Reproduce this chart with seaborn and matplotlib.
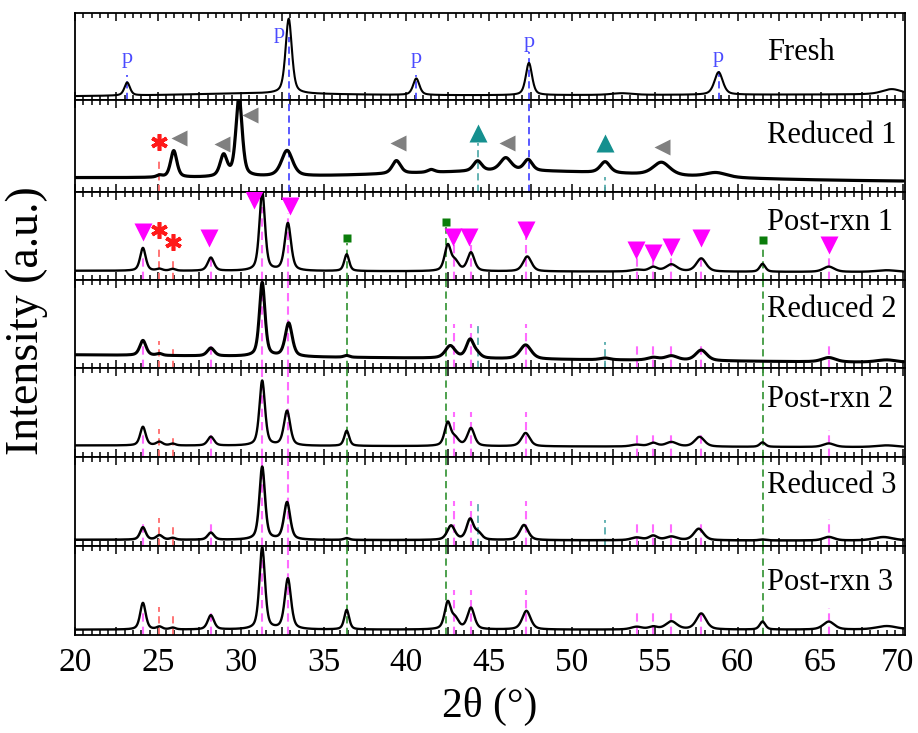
import numpy as np
import matplotlib
matplotlib.use("Agg")
import matplotlib.pyplot as plt
import matplotlib.transforms as mtransforms
from matplotlib.ticker import MultipleLocator, FuncFormatter
import seaborn as sns

# ---------------------------------------------------------------------------
# Diffraction patterns: each peak is (2theta centre, height, FWHM); heights and
# background are in arbitrary intensity units (0-100 per stacked panel).
# ---------------------------------------------------------------------------
PANEL_NAMES = ["Fresh", "Reduced 1", "Post-rxn 1", "Reduced 2",
               "Post-rxn 2", "Reduced 3", "Post-rxn 3"]

FRESH_PEAKS = [(23.15, 15, 0.40), (31.0, 3, 12.0), (32.9, 86, 0.45),
               (40.6, 19, 0.45), (47.4, 37, 0.45), (53.0, 2, 1.5),
               (58.85, 26, 0.6), (69.3, 6, 1.4)]
REDUCED1_PEAKS = [(25.1, 2, 0.4), (25.96, 29, 0.45), (28.97, 23, 0.5),
                  (29.9, 86, 0.45), (32.8, 28, 0.8), (39.4, 14, 0.6),
                  (41.5, 3, 0.5), (44.3, 11, 0.6), (46.0, 14, 0.8),
                  (47.0, 10, 20.0), (47.35, 12, 0.6), (52.0, 12, 0.7),
                  (55.4, 14, 1.2), (58.7, 5, 1.5)]
POSTRXN1_PEAKS = [(24.1, 26, 0.4), (25.1, 2, 0.4), (25.9, 2, 0.4),
                  (28.2, 15, 0.45), (31.3, 90, 0.4), (32.85, 54, 0.45),
                  (36.4, 19, 0.35), (42.5, 29, 0.45), (42.95, 10, 0.5),
                  (43.9, 21, 0.5), (47.3, 17, 0.6), (53.9, 2, 0.8),
                  (54.9, 5, 0.6), (56.0, 8, 0.8), (57.8, 15, 0.7),
                  (61.5, 9, 0.4), (65.5, 6, 0.8), (69.0, 2, 1.5)]
REDUCED2_PEAKS = [(24.1, 17, 0.45), (25.1, 2, 0.4), (28.2, 9, 0.5),
                  (31.3, 84, 0.4), (32.9, 38, 0.5), (36.4, 2, 0.4),
                  (42.65, 14, 0.7), (43.85, 21, 0.55), (44.3, 4, 0.5),
                  (47.2, 16, 0.8), (52.0, 2, 0.7), (54.9, 3, 0.8),
                  (56.0, 5, 0.9), (57.8, 12, 0.8), (65.5, 5, 1.0),
                  (69.0, 3, 1.5)]
POSTRXN2_PEAKS = [(24.1, 21, 0.4), (25.1, 4, 0.45), (25.9, 2, 0.4),
                  (28.2, 10, 0.45), (31.3, 73, 0.4), (32.8, 39, 0.45),
                  (36.4, 17, 0.35), (42.5, 26, 0.45), (42.95, 8, 0.5),
                  (43.9, 20, 0.5), (47.2, 15, 0.6), (53.9, 2, 0.8),
                  (54.9, 4, 0.6), (56.0, 5, 0.8), (57.7, 11, 0.7),
                  (61.5, 5, 0.4), (65.5, 4, 0.8), (69.0, 2, 1.5)]
REDUCED3_PEAKS = [(24.1, 14, 0.4), (25.1, 5, 0.45), (25.9, 2, 0.4),
                  (28.2, 8, 0.45), (31.3, 82, 0.4), (32.8, 42, 0.45),
                  (36.4, 2, 0.4), (42.7, 16, 0.55), (43.85, 23, 0.5),
                  (44.35, 7, 0.5), (47.1, 17, 0.6), (53.9, 3, 0.8),
                  (54.9, 5, 0.6), (56.0, 4, 0.8), (57.65, 13, 0.7),
                  (61.5, 1, 0.5), (65.5, 4, 0.8), (68.8, 4, 1.4)]
POSTRXN3_PEAKS = [(24.1, 30, 0.4), (25.1, 3, 0.4), (25.9, 2, 0.4),
                  (28.2, 16, 0.45), (31.3, 92, 0.4), (32.85, 57, 0.45),
                  (36.4, 22, 0.35), (42.5, 30, 0.45), (42.95, 11, 0.5),
                  (43.9, 24, 0.5), (47.25, 21, 0.6), (53.9, 3, 0.8),
                  (54.9, 3, 0.6), (56.0, 9, 0.8), (57.8, 18, 0.7),
                  (61.5, 9, 0.4), (65.5, 9, 0.8), (69.0, 4, 1.5)]

BG_START = [4.0, 15.0, 10.5, 15.0, 13.0, 7.0, 6.0]   # background at 20 deg
BG_END = [6.5, 11.0, 9.0, 6.0, 11.0, 6.0, 6.0]       # background at 70 deg

# Reference phase positions and stick heights
PEROV_POS = [23.15, 32.9, 40.6, 47.4, 58.85]
PEROV_STICK = [29, 72, 29, 55, 33]
PEROV_LABEL_X = [23.15, 32.3, 40.6, 47.4, 58.85]
PEROV_LABEL_Y = [48, 77, 48, 66, 49]

MAGENTA_POS = [24.1, 28.2, 31.3, 32.85, 42.9, 43.9, 47.25,
               53.9, 54.9, 56.0, 57.8, 65.5]
MAGENTA_STICK = [27, 27, 100, 100, 50, 50, 50, 28, 28, 28, 25, 30]
MAGENTA_MARK_X = [24.1, 28.1, 30.8, 32.95, 42.8, 43.8, 47.2,
                  53.85, 54.9, 56.0, 57.8, 65.5]
MAGENTA_MARK_Y = [55, 48, 91, 84, 49, 49, 57, 34, 31, 37.5, 48, 40]

RED_POS = [25.1, 25.9]
RED_STICK = [31, 24]
RED_MARK_Y_R1 = [54]
RED_MARK_Y_P1 = [57, 43]

GREEN_POS = [36.4, 42.4, 61.5]
GREEN_MARK_Y = [48, 66, 45]

TEAL_POS = [44.3, 52.0]
TEAL_STICK = [48, 29]
TEAL_STICK_R1 = [53, 16]
TEAL_MARK_Y = [64, 53]

GRAY_MARK_X = [26.3, 28.86, 30.55, 39.5, 46.1, 55.45]
GRAY_MARK_Y = [59, 52, 84, 53, 53, 49]

LABEL_Y = [46, 53, 57, 58, 56, 60, 51]
LINE_W = [1.5, 2.3, 1.7, 2.2, 1.7, 1.8, 1.7]

PINK, GREEN, TEAL, RED, BLUE = "#ff6cff", "#3f9a3f", "#57adad", "#ff6a6a", "#4b4bff"

two_theta = np.linspace(20, 70, 2501)


def pattern(peaks, bg0, bg1):
    """Pseudo-Voigt peaks on a straight background."""
    y = bg0 + (bg1 - bg0) * (two_theta - 20) / 50
    for c, h, w in peaks:
        d = (two_theta - c) / (w / 2)
        y = y + h * (0.5 / (1 + d ** 2) + 0.5 * np.exp(-np.log(2) * d ** 2))
    return y


ALL_PEAKS = [FRESH_PEAKS, REDUCED1_PEAKS, POSTRXN1_PEAKS, REDUCED2_PEAKS,
             POSTRXN2_PEAKS, REDUCED3_PEAKS, POSTRXN3_PEAKS]

sns.set_theme(style="ticks")
plt.rcParams["font.family"] = ["Liberation Serif", "DejaVu Serif"]
plt.rcParams.update({"text.color": "black", "axes.labelcolor": "black",
                     "xtick.color": "black", "ytick.color": "black",
                     "axes.edgecolor": "black"})

fig = plt.figure(figsize=(9.18, 7.33), dpi=100)
gs = fig.add_gridspec(7, 1, left=75 / 918, right=905 / 918,
                      top=1 - 13 / 733, bottom=1 - 635 / 733, hspace=0,
                      height_ratios=[87, 92, 88, 88, 89, 89, 89])
axes = [fig.add_subplot(gs[i]) for i in range(7)]

dash = (0, (4, 2.4))

for i, ax in enumerate(axes):
    y = pattern(ALL_PEAKS[i], BG_START[i], BG_END[i])
    sns.lineplot(x=two_theta, y=y, ax=ax, color="black",
                 linewidth=LINE_W[i], estimator=None, sort=False, zorder=3)
    ax.set_xlim(20, 70.1)
    ax.set_ylim(0, 100)
    ax.set_yticks([])
    ax.set_ylabel("")
    ax.xaxis.set_major_locator(MultipleLocator(2.5))
    ax.xaxis.set_minor_locator(MultipleLocator(0.5))
    ax.xaxis.set_major_formatter(FuncFormatter(
        lambda v, p: f"{v:.0f}" if abs(v / 5 - round(v / 5)) < 1e-6 else ""))
    ax.tick_params(axis="x", which="both", direction="in", top=True,
                   bottom=True, width=1.1, color="black", labelcolor="black",
                   labelbottom=(i == 6), labelsize=24, pad=9)
    ax.tick_params(axis="x", which="major", length=6)
    ax.tick_params(axis="x", which="minor", length=3.5)
    for s in ax.spines.values():
        s.set_linewidth(1.3)
        s.set_color("black")
    ax.text(61.75, LABEL_Y[i], PANEL_NAMES[i], fontsize=22, ha="left",
            va="baseline", color="black", zorder=5)

# keep the right-most tick label inside the canvas
fig.canvas.draw()
shift = mtransforms.ScaledTranslation(-6 / 100, 0, fig.dpi_scale_trans)
for lab in axes[-1].get_xticklabels():
    if lab.get_text() == "70":
        lab.set_transform(lab.get_transform() + shift)

# Fresh: perovskite reflections
ax = axes[0]
ax.vlines(PEROV_POS, 0, PEROV_STICK, colors=BLUE, linestyles=dash, lw=1.3, zorder=2)
for x, yy in zip(PEROV_LABEL_X, PEROV_LABEL_Y):
    ax.text(x, yy, "p", color=BLUE, fontsize=16, ha="center", va="center")

# Reduced 1
ax = axes[1]
ax.vlines([PEROV_POS[1], PEROV_POS[3]], 0, 100, colors=BLUE, linestyles=dash, lw=1.3, zorder=2)
ax.vlines(RED_POS[:1], 0, [35], colors=RED, linestyles=dash, lw=1.3, zorder=2)
ax.vlines(TEAL_POS, 0, TEAL_STICK_R1, colors=TEAL, linestyles=dash, lw=1.3, zorder=2)
ax.plot(GRAY_MARK_X, GRAY_MARK_Y, ls="none", marker="<", ms=12,
        color="#808080", mec="none", zorder=4)
ax.plot(TEAL_POS, TEAL_MARK_Y, ls="none", marker="^", ms=13,
        color="#15908f", mec="none", zorder=4)
ax.plot(RED_POS[:1], RED_MARK_Y_R1, ls="none", marker=(6, 2, 0), ms=12,
        mew=2.6, color="#ff1a1a", zorder=4)

# Post-rxn 1
ax = axes[2]
p1_stick = [min(s, m - 8) for s, m in zip(MAGENTA_STICK, MAGENTA_MARK_Y)]
ax.vlines(MAGENTA_POS, 0, p1_stick, colors=PINK, linestyles=dash, lw=1.5, zorder=2)
ax.vlines(RED_POS, 0, [36, 26], colors=RED, linestyles=dash, lw=1.3, zorder=2)
ax.vlines(GREEN_POS, 0, [m - 6 for m in GREEN_MARK_Y], colors=GREEN,
          linestyles=dash, lw=1.3, zorder=2)
ax.plot(MAGENTA_MARK_X, MAGENTA_MARK_Y, ls="none", marker="v", ms=13,
        color="#ff00ff", mec="none", zorder=4)
ax.plot(RED_POS, RED_MARK_Y_P1, ls="none", marker=(6, 2, 0), ms=12,
        mew=2.6, color="#ff1a1a", zorder=4)
ax.plot(GREEN_POS, GREEN_MARK_Y, ls="none", marker="s", ms=6,
        color="#0b7d0b", mec="none", zorder=4)

# Lower panels: reference sticks
for i in range(3, 7):
    ax = axes[i]
    ax.vlines(MAGENTA_POS, 0, MAGENTA_STICK, colors=PINK, linestyles=dash, lw=1.5, zorder=2)
    ax.vlines(RED_POS, 0, RED_STICK, colors=RED, linestyles=dash, lw=1.3, zorder=2)
    ax.vlines(GREEN_POS, 0, 100, colors=GREEN, linestyles=dash, lw=1.3, zorder=2)
    if PANEL_NAMES[i].startswith("Reduced"):
        ax.vlines(TEAL_POS, 0, TEAL_STICK, colors=TEAL, linestyles=dash, lw=1.3, zorder=2)

fig.text(490 / 918, 1 - 706 / 733, "2θ (°)", fontsize=30, ha="center", va="center")
fig.text(27 / 918, 1 - 321 / 733, "Intensity (a.u.)", fontsize=33,
         rotation=90, ha="center", va="center")

fig.savefig("out.png", dpi=100)
